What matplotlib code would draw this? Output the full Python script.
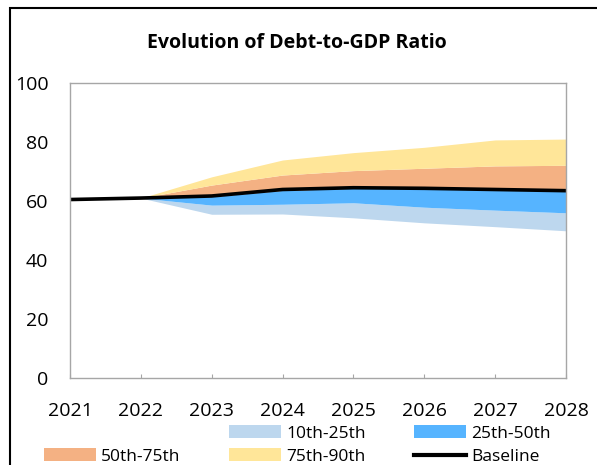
import matplotlib.pyplot as plt
from matplotlib.patches import Patch, Rectangle
from matplotlib.lines import Line2D

plt.rcParams['font.family'] = ['Open Sans', 'DejaVu Sans']

# Data
years = [2021, 2022, 2023, 2024, 2025, 2026, 2027, 2028]
baseline = [60.5, 61.0, 61.7, 63.9, 64.5, 64.3, 63.9, 63.5]
p10 = [60.5, 61.0, 55.5, 55.6, 54.3, 52.6, 51.3, 49.9]
p25 = [60.5, 61.0, 58.6, 58.9, 59.4, 57.9, 56.9, 56.0]
p50 = [60.5, 61.0, 61.5, 63.6, 64.3, 64.2, 63.9, 63.6]
p75 = [60.5, 61.0, 65.4, 68.8, 70.3, 71.1, 71.9, 72.1]
p90 = [60.5, 61.0, 68.2, 73.9, 76.4, 78.2, 80.7, 81.0]

c_10_25 = '#BDD7EE'
c_25_50 = '#56B4FF'
c_50_75 = '#F4B183'
c_75_90 = '#FFE699'
grey = '#A6A6A6'

fig = plt.figure(figsize=(5.97, 4.65), dpi=100)
ax = fig.add_axes([70 / 597, 1 - 378 / 465, 496 / 597, 295 / 465])

# fan bands
ax.fill_between(years, p10, p25, color=c_10_25, lw=0)
ax.fill_between(years, p25, p50, color=c_25_50, lw=0)
ax.fill_between(years, p50, p75, color=c_50_75, lw=0)
ax.fill_between(years, p75, p90, color=c_75_90, lw=0)
ax.plot(years, baseline, color='black', lw=2.6, solid_capstyle='butt')

ax.set_xlim(2021, 2028)
ax.set_ylim(0, 100)
ax.set_xticks(years)
ax.set_yticks(range(0, 101, 20))
ax.tick_params(axis='x', direction='in', length=3, color=grey, pad=17, labelsize=14)
ax.tick_params(axis='y', length=0, pad=15.5, labelsize=14)
for s in ax.spines.values():
    s.set_color(grey)
    s.set_linewidth(1)

fig.text(0.497, 1 - 43 / 465, 'Evolution of Debt-to-GDP Ratio',
         ha='center', va='center', fontsize=14, fontweight='bold')

# legend (blank slot first to match the layout)
handles = [
    Patch(facecolor='none', edgecolor='none', label=' '),
    Patch(facecolor=c_50_75, label='50th-75th'),
    Patch(facecolor=c_10_25, label='10th-25th'),
    Patch(facecolor=c_75_90, label='75th-90th'),
    Patch(facecolor=c_25_50, label='25th-50th'),
    Line2D([], [], color='black', lw=3, label='Baseline'),
]
fig.legend(handles=handles, ncol=3, loc='center left',
           bbox_to_anchor=(44 / 597, 1 - 445 / 465), frameon=False,
           fontsize=12.5, handlelength=3.0, handleheight=0.7,
           handletextpad=0.3, columnspacing=2.77, labelspacing=0.4,
           borderpad=0, borderaxespad=0)

# outer chart border (partly cut off like the reference)
fig.add_artist(Rectangle((10 / 597, -0.2), 1.5, 1.2 - 8 / 465,
                         transform=fig.transFigure, fill=False,
                         edgecolor='black', lw=1.5, clip_on=False))

fig.savefig('out.png', dpi=100)
